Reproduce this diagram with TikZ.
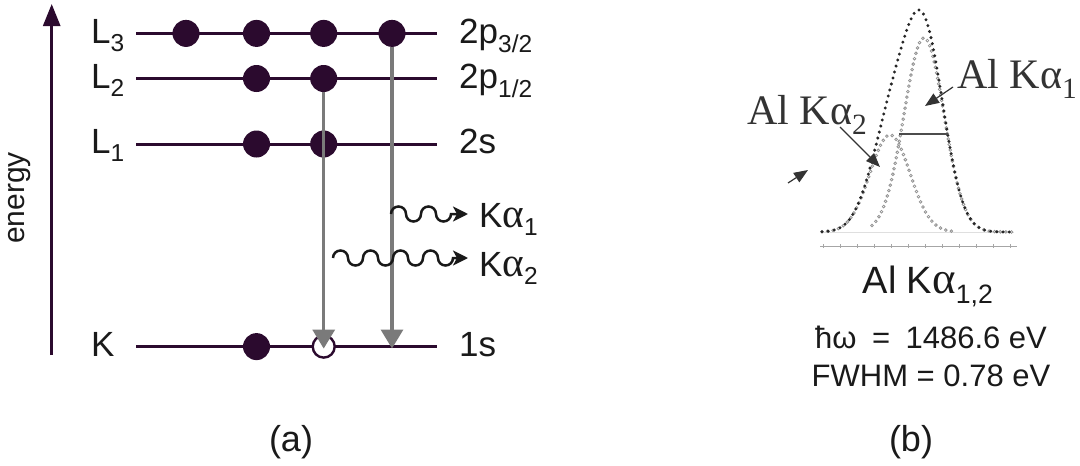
\documentclass[tikz,border=0pt]{standalone}
\usepackage{graphicx}
\usepackage{fontspec}
\setmainfont{Liberation Serif}
\setsansfont{Liberation Sans}
\newfontfamily\grk{Liberation Serif}
\usetikzlibrary{arrows.meta}
\definecolor{lev}{HTML}{2B0A2E}
\definecolor{garr}{HTML}{7A7A7A}
\definecolor{txt}{HTML}{1A1A1A}
\newcommand\fsz[1]{\fontsize{#1}{#1}\selectfont}
\newcommand\alp{{\grk α}}
\newcommand\alpb{\scalebox{1.18}{\grk α}}
\tikzset{
  level/.style={draw=lev, line width=3pt},
  edot/.style={circle, fill=lev, minimum size=27pt, inner sep=0pt},
  ehole/.style={circle, draw=lev, fill=white, line width=2.4pt, minimum size=22pt, inner sep=0pt},
  lbl/.style={font=\sffamily\fsz{35}, text=txt, inner sep=0pt, anchor=base west},
  trans/.style={draw=garr, line width=3.3pt, -{Triangle[length=19pt,width=22pt]}},
  wave/.style={draw=black!90, line width=2.5pt, -{Stealth[length=15pt,width=15pt,inset=4pt]}},
  blackdots/.style={draw=black!85, line width=3.3pt, line cap=round, dash pattern=on 0pt off 6.2pt},
  graydots/.style={draw=gray!85, line width=3.8pt, line cap=round, dash pattern=on 0pt off 5.6pt},
  graydotsin/.style={draw=white, line width=1.1pt, line cap=round, dash pattern=on 0pt off 5.6pt},
  ptr/.style={draw=black!80, line width=1.2pt, -{Triangle[length=14pt,width=11pt]}},
  declare function={ga(\x)=194*exp(-((\x-924)^2)/800); gb(\x)=97*exp(-((\x-890)^2)/800);}
}
\begin{document}
\begin{tikzpicture}[x=1pt,y=-1pt]
\useasboundingbox[fill=white] (0,0) rectangle (1080,466);

% energy axis
\coordinate (e0) at (51.7,355);
\coordinate (e1) at (51.7,4);
\draw[lev, line width=2.7pt, -{Triangle[length=22pt,width=17pt]}] (e0) -- (e1);
\node[font=\sffamily\fsz{30}, text=txt, rotate=90, inner sep=0pt] (en) at (20,198) {energy};

% levels
\foreach \n/\y in {L3/33.4, L2/78.5, L1/144, K/346.6}{
  \coordinate (\n a) at (136,\y);
  \coordinate (\n b) at (437,\y);
  \draw[level] (\n a) -- (\n b);
}

% level labels
\node[lbl] (tL3) at (91,43) {L\textsubscript{3}};
\node[lbl] (tL2) at (91,88) {L\textsubscript{2}};
\node[lbl] (tL1) at (91,153.5) {L\textsubscript{1}};
\node[lbl] (tK) at (91,356.5) {K};
\node[lbl] (o3) at (459,43) {2p\textsubscript{3/2}};
\node[lbl] (o2) at (459,88) {2p\textsubscript{1/2}};
\node[lbl] (o1) at (459,153.5) {2s};
\node[lbl] (oK) at (459,356.5) {1s};

% electrons
\node[edot] (d31) at (186,33.4) {};
\node[edot] (d32) at (256.5,33.4) {};
\node[edot] (d33) at (323.7,33.4) {};
\node[edot] (d34) at (392,33.4) {};
\node[edot] (d22) at (256.5,78.5) {};
\node[edot] (d23) at (323.7,78.5) {};
\node[edot] (d12) at (256.5,144) {};
\node[edot] (d13) at (323.7,144) {};
\node[edot] (k2) at (256.5,346.6) {};
\node[ehole] (hole) at (323.7,346.6) {};
\coordinate (kend) at (392,348.5);

% transitions
\draw[trans] (d23.south) -- ([yshift=-2pt]hole.center);
\draw[trans] (d34.south) -- (kend);

% photons (semicircle waves)
\coordinate (w1a) at (391,214);
\coordinate (w1b) at (468,214);
\coordinate (w2a) at (333,258);
\coordinate (w2b) at (468,258);
\draw[wave] (w1a) \foreach \i in {1,2}{ arc[start angle=180, end angle=360, radius=7.5] arc[start angle=180, end angle=0, radius=7.5] } -- (w1b);
\draw[wave] (w2a) \foreach \i in {1,...,4}{ arc[start angle=180, end angle=360, radius=7.5] arc[start angle=180, end angle=0, radius=7.5] } -- (w2b);
\node[lbl] (ka1) at (479,227) {K\alpb\textsubscript{1}};
\node[lbl] (ka2) at (479,276) {K\alpb\textsubscript{2}};

\node[font=\sffamily\fsz{36}, text=txt, inner sep=0pt] (capa) at (291,442) {(a)};

% ---- panel (b): spectrum ----
\coordinate (ax0) at (820,246);
\coordinate (ax1) at (1017,246);
\draw[gray!70, line width=1pt] (ax0) -- (ax1);
\foreach \t in {823,840,...,1016}{\draw[gray!70, line width=0.8pt] (\t,244.3) -- (\t,247.7);}
\draw[gray!25, line width=1pt] (822,232) -- (1014,232);

\draw[graydots] plot[domain=822:952, samples=140] (\x,{232-gb(\x)});
\draw[graydotsin] plot[domain=822:952, samples=140] (\x,{232-gb(\x)});
\draw[graydots] plot[domain=872:1014, samples=160] (\x,{232-ga(\x)});
\draw[graydotsin] plot[domain=872:1014, samples=160] (\x,{232-ga(\x)});
\draw[blackdots] plot[domain=822:1014, samples=220] (\x,{232-ga(\x)-gb(\x)});

\coordinate (fw0) at (899,134);
\coordinate (fw1) at (948,134);
\draw[black!70, line width=1.6pt] (fw0) -- (fw1);

\node[font=\rmfamily\fsz{42}, text=black!80, inner sep=0pt, anchor=base west] (alk2) at (747,124) {Al K\alp\textsubscript{2}};
\node[font=\rmfamily\fsz{42}, text=black!80, inner sep=0pt, anchor=base west] (alk1) at (957,88) {Al K\alp\textsubscript{1}};

\coordinate (p2s) at (840,127);
\coordinate (p2e) at (880,167);
\coordinate (p1s) at (953,87);
\coordinate (p1e) at (925,106);
\coordinate (p3s) at (788,183);
\coordinate (p3e) at (808,170);
\draw[ptr] (p2s) -- (p2e);
\draw[ptr] (p1s) -- (p1e);
\draw[ptr] (p3s) -- (p3e);

\node[font=\sffamily\fsz{38}, text=txt, inner sep=0pt, anchor=base] (alk) at (928,293) {Al K\alpb\textsubscript{1,2}};
\node[font=\sffamily\fsz{31}, text=txt, inner sep=0pt, anchor=base] (hw) at (931,348) {ħω\hspace{0.5em}=\hspace{0.5em}1486.6 eV};
\node[font=\sffamily\fsz{31}, text=txt, inner sep=0pt, anchor=base] (fwhm) at (931,386) {FWHM = 0.78 eV};
\node[font=\sffamily\fsz{36}, text=txt, inner sep=0pt] (capb) at (911,442) {(b)};
\end{tikzpicture}
\end{document}
